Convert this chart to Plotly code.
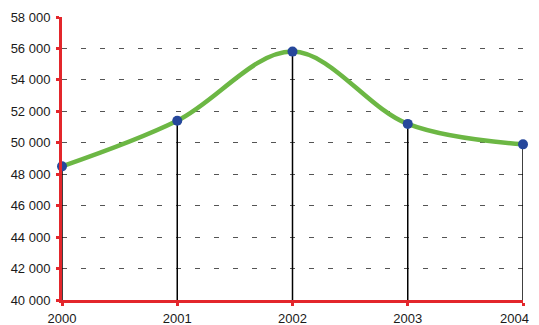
import plotly.graph_objects as go

years = [2000, 2001, 2002, 2003, 2004]
values = [48500, 51400, 55800, 51200, 49900]
y_min = 40000
y_max = 58000

fig = go.Figure()

# black drop lines from each point down to the x axis
fig.add_trace(go.Scatter(
    x=years, y=values,
    mode='markers',
    marker=dict(size=0.1, color='rgba(0,0,0,0)'),
    error_y=dict(
        type='data', symmetric=False,
        array=[0] * len(values),
        arrayminus=[v - y_min for v in values],
        color='black', thickness=1.5, width=0,
    ),
    hoverinfo='skip', showlegend=False,
))

fig.add_trace(go.Scatter(
    x=years, y=values,
    mode='lines',
    line=dict(color='#6cb744', width=4.5, shape='spline', smoothing=1.0),
    showlegend=False, cliponaxis=False,
))

fig.add_trace(go.Scatter(
    x=years, y=values,
    mode='markers',
    marker=dict(color='#26479b', size=10),
    showlegend=False, cliponaxis=False,
))

# page body adds ~8px offset, so margins are shifted to compensate
fig.update_layout(
    width=539, height=317,
    margin=dict(l=54, r=24, t=9, b=25),
    plot_bgcolor='white', paper_bgcolor='white',
    separators='. ',
    font=dict(family='Liberation Sans, Arial', size=13, color='#1a1a1a'),
)

# last year label gets cut at the page edge, so draw it right-aligned instead
tick_text = [str(y) for y in years]
tick_text[-1] = ''
fig.add_annotation(
    x=years[-1], y=y_min, xref='x', yref='y',
    text=str(years[-1]), showarrow=False,
    xanchor='right', yanchor='middle', xshift=8, yshift=-18,
)

fig.update_xaxes(
    range=[2000, 2004], tickvals=years, ticktext=tick_text,
    showgrid=False, zeroline=False, automargin=False,
    showline=True, linecolor='#e3262b', linewidth=3,
    ticks='outside', ticklen=3, tickwidth=3, tickcolor='#e3262b',
    ticklabelstandoff=1,
)
fig.update_yaxes(
    range=[y_min, y_max], dtick=2000, tickformat=',d',
    showgrid=True, gridcolor='#555555', gridwidth=1, griddash='5px,14px',
    zeroline=False, automargin=False,
    showline=True, linecolor='#e3262b', linewidth=3,
    ticks='outside', ticklen=3, tickwidth=3, tickcolor='#e3262b',
    ticklabelstandoff=3,
)

fig.write_html("out.html")
